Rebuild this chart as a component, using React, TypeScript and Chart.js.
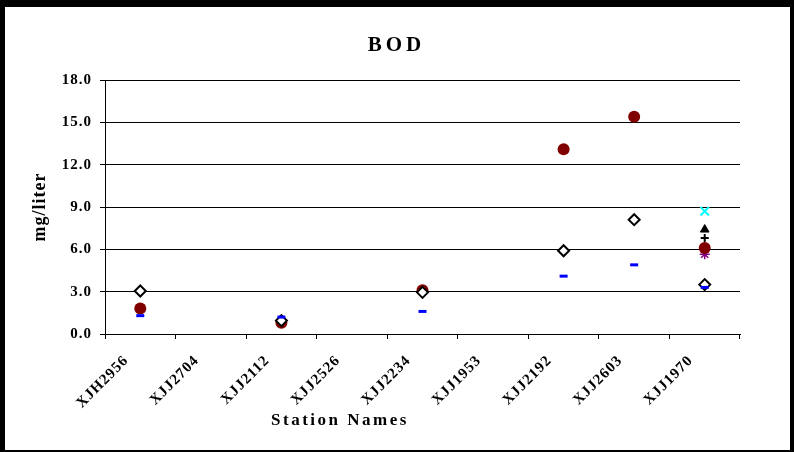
import React, { useEffect, useRef } from 'react';
import { Chart, registerables } from 'chart.js';

Chart.register(...registerables);

const TITLE = 'BOD';
const Y_TITLE = 'mg/liter';
const X_TITLE = 'Station Names';

const stations = ['XJH2956', 'XJJ2704', 'XJJ2112', 'XJJ2526', 'XJJ2234', 'XJJ1953', 'XJJ2192', 'XJJ2603', 'XJJ1970'];

const seriesCircle = [1.8, null, 0.8, null, 3.1, null, 13.1, 15.4, 6.1];
const seriesDiamond = [3.05, null, 0.95, null, 2.95, null, 5.9, 8.1, 3.5];
const seriesDash = [1.3, null, 1.2, null, 1.6, null, 4.1, 4.9, 3.3];
const seriesCyanX = [null, null, null, null, null, null, null, null, 8.7];
const seriesTriangle = [null, null, null, null, null, null, null, null, 7.4];
const seriesPlus = [null, null, null, null, null, null, null, null, 6.8];
const seriesStar = [null, null, null, null, null, null, null, null, 5.65];

const yMin = 0;
const yMax = 18;
const yStep = 3;

const SERIF = "'Liberation Serif', 'Times New Roman', serif";

const textPlugin = {
  id: 'customText',
  beforeDraw(chart: any) {
    (chart.ctx as any).letterSpacing = '1px';
  },
  afterDraw(chart: any) {
    const { ctx, chartArea } = chart;
    ctx.save();
    ctx.fillStyle = '#000';
    ctx.textAlign = 'center';
    ctx.textBaseline = 'middle';
    ctx.font = `bold 21px ${SERIF}`;
    (ctx as any).letterSpacing = '4px';
    ctx.fillText(TITLE, chart.width / 2 - 1, 39);
    ctx.font = `bold 17px ${SERIF}`;
    (ctx as any).letterSpacing = '2.5px';
    ctx.fillText(X_TITLE, chartArea.left + chartArea.width * 0.37, chartArea.bottom + 87);
    ctx.restore();
  },
};

export default function App() {
  const ref = useRef<HTMLCanvasElement>(null);

  useEffect(() => {
    document.body.style.margin = '0';
    const mk = (label: string, data: (number | null)[], extra: any) => ({
      label,
      data,
      showLine: false,
      pointHoverRadius: extra.pointRadius,
      ...extra,
    });
    const chart = new Chart(ref.current!, {
      type: 'line',
      data: {
        labels: stations,
        datasets: [
          mk('Circle', seriesCircle, {
            pointStyle: 'circle', pointRadius: 6, backgroundColor: '#800000', borderColor: '#800000', borderWidth: 0, order: 6,
          }),
          mk('Diamond', seriesDiamond, {
            pointStyle: 'rectRot', pointRadius: 5.5, backgroundColor: '#ffffff', borderColor: '#000000', borderWidth: 2, order: 5,
          }),
          mk('Dash', seriesDash, {
            pointStyle: 'line', pointRadius: 4, backgroundColor: '#0000ff', borderColor: '#0000ff', borderWidth: 3, order: 4,
          }),
          mk('CyanX', seriesCyanX, {
            pointStyle: 'crossRot', pointRadius: 6, backgroundColor: '#00ffff', borderColor: '#00ffff', borderWidth: 2, order: 1,
          }),
          mk('Triangle', seriesTriangle, {
            pointStyle: 'triangle', pointRadius: 5, backgroundColor: '#000000', borderColor: '#000000', borderWidth: 1, order: 3,
          }),
          mk('Plus', seriesPlus, {
            pointStyle: 'cross', pointRadius: 4, backgroundColor: '#000000', borderColor: '#000000', borderWidth: 2, order: 2,
          }),
          mk('Star', seriesStar, {
            pointStyle: 'star', pointRadius: 5, backgroundColor: '#800080', borderColor: '#800080', borderWidth: 1.5, order: 7,
          }),
        ],
      },
      options: {
        animation: false,
        responsive: false,
        devicePixelRatio: 1,
        events: [],
        layout: { padding: { top: 73, left: 0, right: 50, bottom: 0 } },
        plugins: {
          legend: { display: false },
          title: { display: false },
          tooltip: { enabled: false },
        },
        scales: {
          x: {
            type: 'category',
            offset: true,
            afterFit(scale: any) { scale.height = 116; },
            grid: {
              display: true,
              offset: true,
              drawOnChartArea: false,
              drawTicks: true,
              tickLength: 5,
              color: '#000',
              lineWidth: 1,
            },
            border: { display: true, color: '#000', width: 1 },
            ticks: {
              autoSkip: false,
              minRotation: 45,
              maxRotation: 45,
              labelOffset: -14,
              padding: 13,
              color: '#000',
              font: { family: SERIF, size: 15, weight: 'bold' },
            },
          },
          y: {
            min: yMin,
            max: yMax,
            afterFit(scale: any) { scale.width = 100; },
            grid: {
              color: '#000',
              lineWidth: 1,
              drawTicks: true,
              tickLength: 5,
            },
            border: { display: true, color: '#000', width: 1 },
            ticks: {
              stepSize: yStep,
              padding: 8,
              color: '#000',
              font: { family: SERIF, size: 15, weight: 'bold' },
              callback: (v: any) => Number(v).toFixed(1),
            },
            title: {
              display: true,
              text: Y_TITLE,
              color: '#000',
              font: { family: SERIF, size: 18, weight: 'bold' },
              padding: { top: 25, bottom: 0 },
            },
          },
        },
      } as any,
      plugins: [textPlugin],
    });
    return () => chart.destroy();
  }, []);

  return (
    <div
      style={{
        position: 'absolute',
        left: 0,
        top: 0,
        width: 794,
        height: 452,
        boxSizing: 'border-box',
        borderStyle: 'solid',
        borderColor: '#000',
        borderWidth: '7px 4px 2px 5px',
        background: '#fff',
      }}
    >
      <canvas ref={ref} width={785} height={443} style={{ display: 'block', width: 785, height: 443 }} />
    </div>
  );
}
